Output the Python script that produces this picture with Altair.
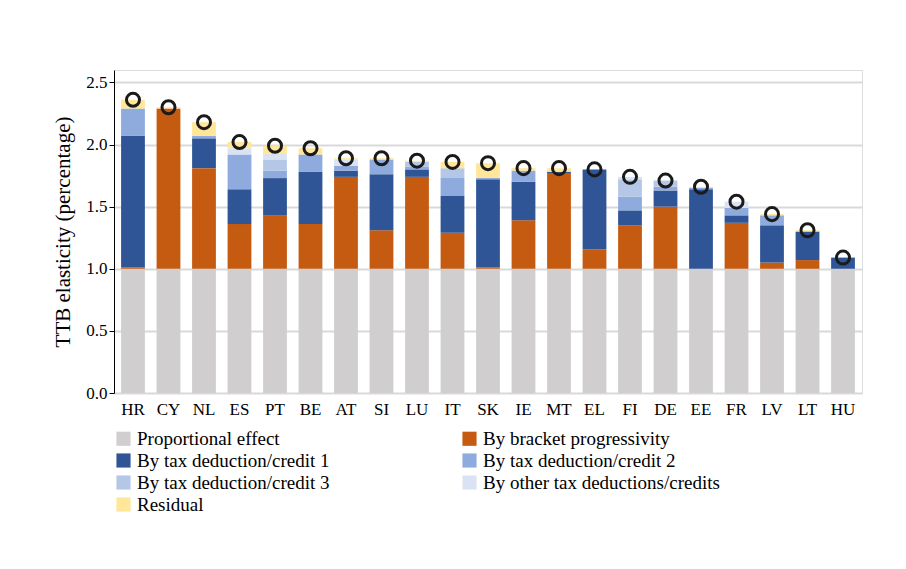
import altair as alt
import pandas as pd

countries = ["HR", "CY", "NL", "ES", "PT", "BE", "AT", "SI", "LU", "IT", "SK",
             "IE", "MT", "EL", "FI", "DE", "EE", "FR", "LV", "LT", "HU"]
proportional = [1.0] * 21
bracket = [0.01, 1.29, 0.81, 0.36, 0.43, 0.36, 0.74, 0.31, 0.74, 0.29, 0.01,
           0.39, 0.77, 0.155, 0.35, 0.50, 0.0, 0.37, 0.05, 0.07, 0.0]
ded1 = [1.06, 0.0, 0.24, 0.28, 0.30, 0.42, 0.05, 0.45, 0.06, 0.30, 0.71,
        0.31, 0.01, 0.645, 0.12, 0.13, 0.64, 0.06, 0.30, 0.23, 0.09]
ded2 = [0.22, 0.0, 0.02, 0.28, 0.06, 0.14, 0.04, 0.12, 0.02, 0.14, 0.01,
        0.09, 0.0, 0.0, 0.11, 0.03, 0.01, 0.06, 0.08, 0.0, 0.0]
ded3 = [0.0, 0.0, 0.0, 0.0, 0.09, 0.0, 0.0, 0.0, 0.04, 0.08, 0.0,
        0.0, 0.0, 0.0, 0.14, 0.05, 0.0, 0.0, 0.0, 0.0, 0.0]
other = [0.0, 0.0, 0.0, 0.05, 0.05, 0.0, 0.05, 0.0, 0.0, 0.0, 0.0,
         0.0, 0.0, 0.0, 0.02, 0.0, 0.0, 0.05, 0.0, 0.0, 0.0]
residual = [0.07, 0.01, 0.11, 0.05, 0.06, 0.05, 0.01, 0.01, 0.01, 0.05, 0.12,
            0.02, 0.03, 0.0, 0.0, 0.0, 0.01, 0.0, 0.01, 0.01, 0.0]
total = [2.36, 2.30, 2.18, 2.02, 1.99, 1.97, 1.89, 1.89, 1.87, 1.86, 1.85,
         1.81, 1.81, 1.80, 1.74, 1.71, 1.66, 1.54, 1.44, 1.31, 1.09]

series = {
    "Proportional effect": proportional,
    "By bracket progressivity": bracket,
    "By tax deduction/credit 1": ded1,
    "By tax deduction/credit 2": ded2,
    "By tax deduction/credit 3": ded3,
    "By other tax deductions/credits": other,
    "Residual": residual,
}
colors = ["#d0cece", "#c55a11", "#2f5597", "#8faadc", "#b4c7e7", "#dae3f3", "#ffe699"]
names = list(series.keys())

rows = []
for k, (name, vals) in enumerate(series.items()):
    for c, v in zip(countries, vals):
        rows.append({"country": c, "component": name, "value": v, "ord": k})
df = pd.DataFrame(rows)
tot = pd.DataFrame({"country": countries, "total": total})

font = "Liberation Serif"
x = alt.X("country:N", sort=countries, title=None,
          scale=alt.Scale(paddingInner=0.33, paddingOuter=0.2),
          axis=alt.Axis(labelAngle=0, labelFontSize=17, labelFont=font, labelColor="black",
                        ticks=False, domainColor="#d9d9d9", labelPadding=8))

bars = alt.Chart(df).mark_bar().encode(
    x=x,
    y=alt.Y("value:Q", stack="zero", title="TTB elasticity (percentage)",
            scale=alt.Scale(domain=[0, 2.5]),
            axis=alt.Axis(values=[0, 0.5, 1, 1.5, 2, 2.5], format=".1f", labelFontSize=17,
                          labelFont=font, labelColor="black", titleFont=font, titleFontSize=21,
                          titleFontWeight="normal", titleColor="black", gridColor="#d9d9d9",
                          gridWidth=2, domainColor="black", tickColor="black", titlePadding=12)),
    color=alt.Color("component:N", sort=names, scale=alt.Scale(domain=names, range=colors),
                    legend=alt.Legend(title=None, orient="bottom", columns=2, direction="horizontal",
                                      symbolType="square", symbolSize=200, symbolStrokeWidth=0,
                                      labelFont=font, labelFontSize=19, labelColor="black",
                                      columnPadding=130, rowPadding=2, labelLimit=400,
                                      offset=12)),
    order=alt.Order("ord:Q"),
)

dots = alt.Chart(tot).mark_point(shape="circle", filled=False, color="#1a1a1a",
                                 strokeWidth=3, size=170, opacity=1).encode(
    x=alt.X("country:N", sort=countries),
    y="total:Q",
)

chart = alt.layer(bars, dots).properties(width=748, height=323).configure_view(
    stroke=None).configure(background="white", padding={"left": 44, "top": 62, "right": 30, "bottom": 10})

chart.save("out.html", embed_options={"renderer": "svg", "actions": False})
